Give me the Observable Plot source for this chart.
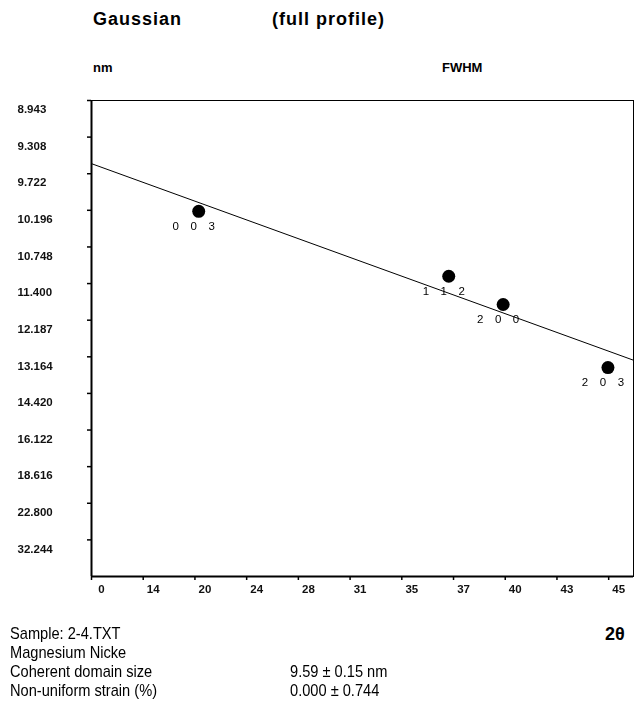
<!DOCTYPE html>
<html><head><meta charset="utf-8">
<script src="https://cdn.jsdelivr.net/npm/d3@7"></script>
<script src="https://cdn.jsdelivr.net/npm/@observablehq/plot@0.6"></script>
<style>
body{margin:0;background:#fff;}
#wrap{position:relative;width:636px;height:719px;font-family:"Liberation Sans",Arial,sans-serif;color:#000;overflow:hidden;}
#wrap svg{position:absolute;left:0;top:0;filter:grayscale(100%);}
.t{position:absolute;white-space:pre;line-height:1;}
.b{font-weight:bold;}
.tt{letter-spacing:1px;}
.n{font-family:"Liberation Sans",Arial,sans-serif;font-size:17px;line-height:19px;transform-origin:0 0;transform:scaleX(0.86);}
</style></head><body><div id="wrap"></div>
<script>
// ---- data ----
const reflections = ["003", "112", "200", "203"];
const twoTheta = [20.10, 37.15, 39.99, 45.04];          // degrees
const apparentSize = [10.21, 11.26, 11.83, 13.50];      // nm (y axis reads size)
const xTickLabels = ["0", "14", "20", "24", "28", "31", "35", "37", "40", "43", "45"];
const xStep = 0.01469;     // sin²θ spacing between x ticks
const xEnd = 10.48;        // frame right edge, in tick steps
const yTickLabels = ["8.943", "9.308", "9.722", "10.196", "10.748", "11.400", "12.187",
  "13.164", "14.420", "16.122", "18.616", "22.800", "32.244"];

// ---- derived ----
const sin2 = t => Math.sin(t / 2 * Math.PI / 180) ** 2;
const points = reflections.map((h, i) => ({hkl: h, x: sin2(twoTheta[i]), y: 1 / apparentSize[i] ** 2}));
const xTickVals = xTickLabels.map((_, i) => i * xStep);
const yTickVals = yTickLabels.map(s => 1 / (+s) ** 2);
const xMax = xEnd * xStep;
const yMax = yTickVals[0];
// least-squares Williamson–Hall fit
const mx = d3.mean(points, d => d.x), my = d3.mean(points, d => d.y);
const slope = d3.sum(points, d => (d.x - mx) * (d.y - my)) / d3.sum(points, d => (d.x - mx) ** 2);
const icpt = my - slope * mx;
const fit = [0, xMax].map(x => ({x, y: icpt + slope * x}));
const spaced = s => s.split("").join("\u2003");

const chart = Plot.plot({
  width: 636, height: 610,
  marginLeft: 91, marginRight: 3, marginTop: 100, marginBottom: 34,
  style: {fontFamily: "Liberation Sans, Arial, sans-serif", color: "black", background: "white"},
  x: {domain: [0, xMax]},
  y: {domain: [0, yMax]},
  marks: [
    Plot.frame({stroke: "black", strokeWidth: 1}),
    Plot.ruleX([0], {stroke: "black", strokeWidth: 2}),
    Plot.ruleY([0], {stroke: "black", strokeWidth: 2}),
    Plot.axisX(xTickVals, {tickSize: 4, tickFormat: () => "", strokeWidth: 1.5, label: null}),
    Plot.axisY(yTickVals, {tickSize: 4, tickFormat: () => "", strokeWidth: 1.5, label: null}),
    Plot.text(xTickVals, {x: d => d, frameAnchor: "bottom", dy: 16, dx: 10, text: (d, i) => xTickLabels[i],
      fontSize: 11.5, fontWeight: "bold", fill: "#111"}),
    Plot.text(yTickVals, {y: d => d, frameAnchor: "left", dx: -74, dy: 9, textAnchor: "start",
      text: (d, i) => yTickLabels[i], fontSize: 11.5, fontWeight: "bold", fill: "#111"}),
    Plot.line(fit, {x: "x", y: "y", stroke: "black", strokeWidth: 1, clip: true}),
    Plot.dot(points, {x: "x", y: "y", r: 6.5, fill: "black", stroke: "none"}),
    Plot.text(points, {x: "x", y: "y", text: d => spaced(d.hkl), dx: -5, dy: 15, fontSize: 11.5, fill: "black"})
  ]
});
const wrap = document.getElementById("wrap");
wrap.appendChild(chart);

const texts = [
  {s: "Gaussian", x: 93, y: 10, c: "t b tt", f: 18},
  {s: "(full profile)", x: 272, y: 10, c: "t b tt", f: 18},
  {s: "nm", x: 93, y: 61, c: "t b", f: 13},
  {s: "FWHM", x: 442, y: 61, c: "t b", f: 13},
  {s: "Sample: 2-4.TXT", x: 10, y: 624, c: "t n"},
  {s: "Magnesium Nicke", x: 10, y: 643, c: "t n"},
  {s: "Coherent domain size", x: 10, y: 662, c: "t n"},
  {s: "Non-uniform strain (%)", x: 10, y: 681, c: "t n"},
  {s: "9.59 ± 0.15 nm", x: 290, y: 662, c: "t n"},
  {s: "0.000 ± 0.744", x: 290, y: 681, c: "t n"},
  {s: "2θ", x: 605, y: 625, c: "t b", f: 18}
];
for (const t of texts) {
  const d = document.createElement("div");
  d.className = t.c;
  d.textContent = t.s;
  d.style.left = t.x + "px";
  d.style.top = t.y + "px";
  if (t.f) d.style.fontSize = t.f + "px";
  wrap.appendChild(d);
}
</script>
</body></html>
